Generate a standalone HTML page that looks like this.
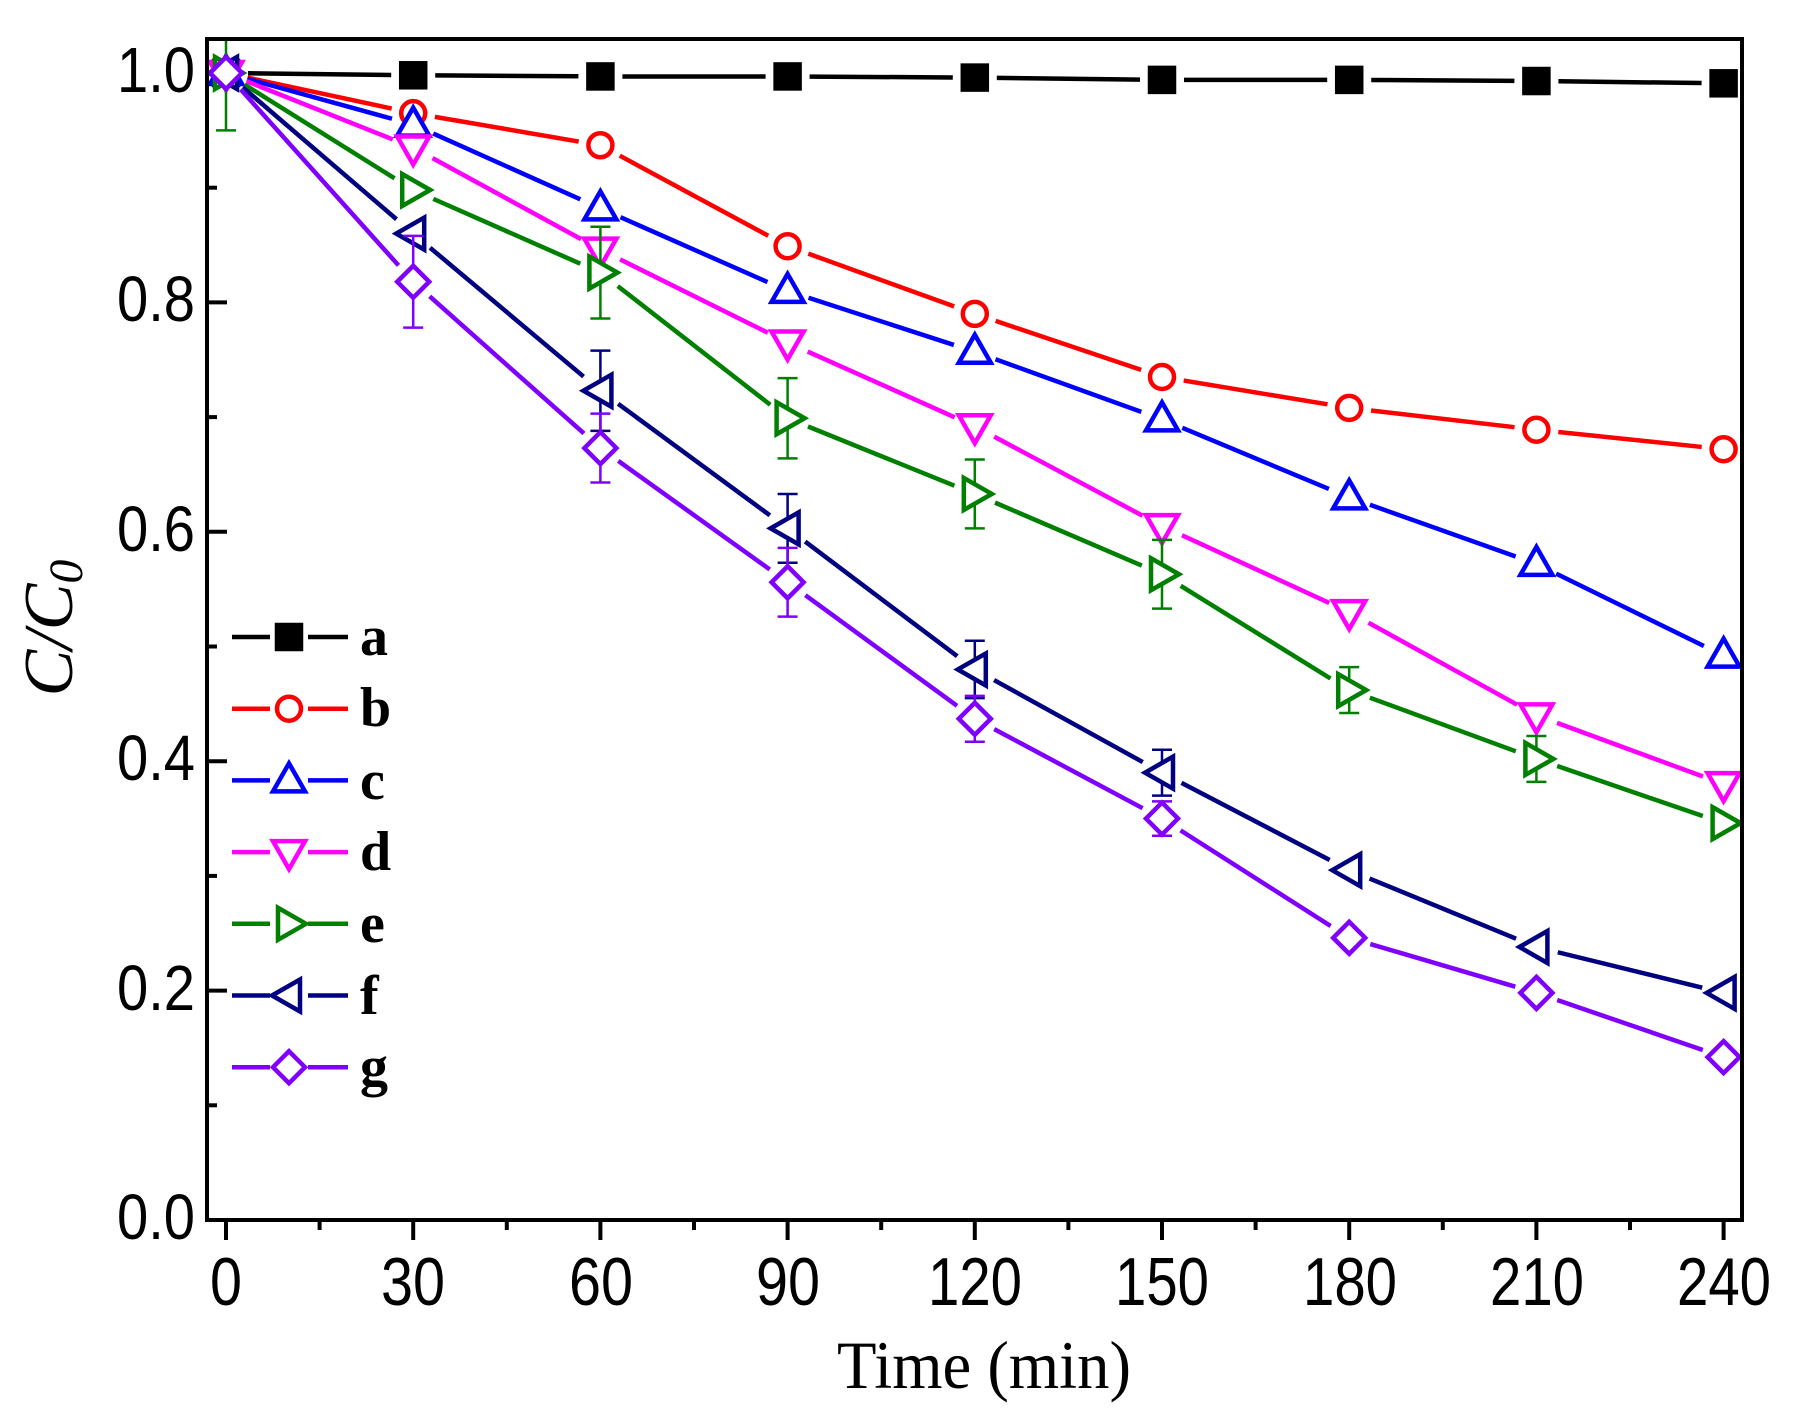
<!DOCTYPE html>
<html><head><meta charset="utf-8"><style>
html,body{margin:0;padding:0;background:#fff;}
svg{display:block;}
text{font-family:"Liberation Sans",sans-serif;fill:#000;}
.serif text, text.serif{font-family:"Liberation Serif",serif;}
</style></head><body>
<svg id="s" width="1800" height="1426" viewBox="0 0 1800 1426" xmlns="http://www.w3.org/2000/svg">
<defs><clipPath id="cp"><rect x="207" y="39" width="1535" height="1181"/></clipPath></defs>
<g id="ticks" stroke="#000" stroke-width="4"></g>
<g id="plot" clip-path="url(#cp)"></g>
<rect x="207" y="39" width="1535" height="1181" fill="none" stroke="#000" stroke-width="4"/>
<g font-size="68">
<text x="226" y="1305" text-anchor="middle" textLength="32" lengthAdjust="spacingAndGlyphs">0</text>
<text x="413" y="1305" text-anchor="middle" textLength="64" lengthAdjust="spacingAndGlyphs">30</text>
<text x="601" y="1305" text-anchor="middle" textLength="64" lengthAdjust="spacingAndGlyphs">60</text>
<text x="788" y="1305" text-anchor="middle" textLength="64" lengthAdjust="spacingAndGlyphs">90</text>
<text x="975" y="1305" text-anchor="middle" textLength="94" lengthAdjust="spacingAndGlyphs">120</text>
<text x="1162" y="1305" text-anchor="middle" textLength="94" lengthAdjust="spacingAndGlyphs">150</text>
<text x="1350" y="1305" text-anchor="middle" textLength="94" lengthAdjust="spacingAndGlyphs">180</text>
<text x="1537" y="1305" text-anchor="middle" textLength="94" lengthAdjust="spacingAndGlyphs">210</text>
<text x="1724" y="1305" text-anchor="middle" textLength="94" lengthAdjust="spacingAndGlyphs">240</text>
</g>
<g font-size="64" text-anchor="end">
<text x="195" y="1239" textLength="78" lengthAdjust="spacingAndGlyphs">0.0</text>
<text x="195" y="1010" textLength="78" lengthAdjust="spacingAndGlyphs">0.2</text>
<text x="195" y="780" textLength="78" lengthAdjust="spacingAndGlyphs">0.4</text>
<text x="195" y="551" textLength="78" lengthAdjust="spacingAndGlyphs">0.6</text>
<text x="195" y="321" textLength="78" lengthAdjust="spacingAndGlyphs">0.8</text>
<text x="195" y="92" textLength="78" lengthAdjust="spacingAndGlyphs">1.0</text>
</g>
<text class="serif" x="984" y="1388" text-anchor="middle" font-size="68" textLength="294" lengthAdjust="spacingAndGlyphs">Time (min)</text>
<text class="serif" transform="translate(72,628) rotate(-90)" text-anchor="middle" font-size="70" font-style="italic">C/C<tspan font-size="48" dy="10">0</tspan></text>
<g id="leg"></g>
<g class="serif" font-size="56" font-weight="bold">
<text x="360" y="655">a</text><text x="360" y="726">b</text><text x="360" y="799">c</text>
<text x="360" y="870">d</text><text x="360" y="942">e</text><text x="360" y="1014">f</text><text x="360" y="1085">g</text>
</g>
</svg>
<script>
var NS="http://www.w3.org/2000/svg";
function X(t){return 226+6.24*t;}
function Y(v){return 1220-1147*v;}
function el(p,n,a){var e=document.createElementNS(NS,n);for(var k in a)e.setAttribute(k,a[k]);p.appendChild(e);return e;}
var tk=document.getElementById('ticks');
for(var t=0;t<=240;t+=15){var L=(t%30==0)?20:10;el(tk,'line',{x1:X(t),y1:1220,x2:X(t),y2:1220+L});}
for(var i=1;i<10;i++){var L=(i%2==0)?20:10;el(tk,'line',{x1:207,y1:Y(i/10),x2:207+L,y2:Y(i/10)});}
var T=[0,30,60,90,120,150,180,210,240];
var S=[
['#000','sq',[1,.998,.997,.997,.996,.994,.994,.993,.991]],
['#ff0000','ci',[1,.965,.937,.849,.79,.735,.708,.689,.672]],
['#0000ff','up',[1,.955,.882,.81,.757,.698,.63,.572,.492]],
['#ff00ff','dn',[1,.935,.846,.765,.692,.605,.53,.44,.38]],
['#008000','rt',[1,.898,.826,.699,.633,.563,.462,.402,.346]],
['#000080','lt',[1,.86,.723,.603,.48,.39,.305,.238,.198]],
['#8000ff','di',[1,.818,.673,.556,.437,.35,.246,.198,.142]]];
var ERR={4:[.05,0,.04,.035,.03,.03,.02,.02,0],5:[0,0,.035,.03,.025,.02,0,0,0],6:[0,.04,.03,.03,.02,.015,0,0,0]};
function mk(g,type,x,y,c){
 var a={fill:type=='sq'?c:'#fff',stroke:c,'stroke-width':4.5};
 if(type=='sq'){a.x=x-12;a.y=y-12;a.width=24;a.height=24;el(g,'rect',a);}
 else if(type=='ci'){a.cx=x;a.cy=y;a.r=12;el(g,'circle',a);}
 else{var p;
  if(type=='up')p=[[x,y-17],[x+16,y+11],[x-16,y+11]];
  if(type=='dn')p=[[x,y+17],[x+16,y-11],[x-16,y-11]];
  if(type=='rt')p=[[x+17,y],[x-11,y-16],[x-11,y+16]];
  if(type=='lt')p=[[x-17,y],[x+11,y-16],[x+11,y+16]];
  if(type=='di')p=[[x,y-16],[x+16,y],[x,y+16],[x-16,y]];
  a.points=p.map(function(q){return q.join(',')}).join(' ');el(g,'polygon',a);}
}
var pl=document.getElementById('plot');
S.forEach(function(s,si){
 var c=s[0],v=s[2],g=el(pl,'g',{});
 for(var i=0;i<8;i++){var x1=X(T[i]),y1=Y(v[i]),x2=X(T[i+1]),y2=Y(v[i+1]);
  var dx=x2-x1,dy=y2-y1,d=Math.hypot(dx,dy),gp=22;
  el(g,'line',{x1:x1+dx*gp/d,y1:y1+dy*gp/d,x2:x2-dx*gp/d,y2:y2-dy*gp/d,stroke:c,'stroke-width':4.5});}
 if(ERR[si])ERR[si].forEach(function(e,i){if(!e)return;var x=X(T[i]),y=Y(v[i]),h=e*1147;
  el(g,'line',{x1:x,y1:y-h,x2:x,y2:y+h,stroke:c,'stroke-width':2.5});
  el(g,'line',{x1:x-10,y1:y-h,x2:x+10,y2:y-h,stroke:c,'stroke-width':2.5});
  el(g,'line',{x1:x-10,y1:y+h,x2:x+10,y2:y+h,stroke:c,'stroke-width':2.5});});
 for(var i=0;i<9;i++)mk(g,s[1],X(T[i]),Y(v[i]),c);
});
var lg=document.getElementById('leg');
S.forEach(function(s,i){var y=637+71.7*i;
 el(lg,'line',{x1:232,y1:y,x2:270,y2:y,stroke:s[0],'stroke-width':4.5});
 el(lg,'line',{x1:308,y1:y,x2:348,y2:y,stroke:s[0],'stroke-width':4.5});
 mk(lg,s[1],289,y,s[0]);});
</script>
</body></html>
